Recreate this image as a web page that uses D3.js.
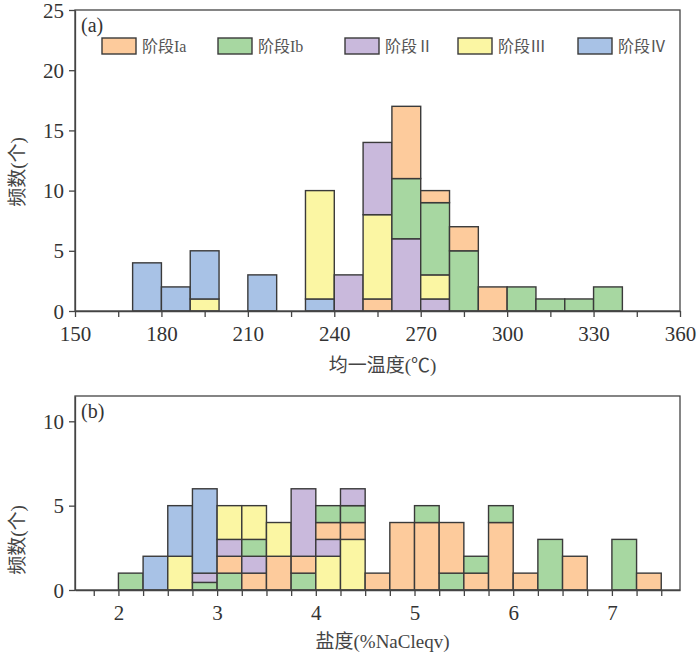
<!DOCTYPE html>
<html><head><meta charset="utf-8">
<script src="https://cdn.jsdelivr.net/npm/d3@7/dist/d3.min.js"></script>
<style>
body{margin:0;background:#fff;}
text{font-family:"Liberation Serif","Noto Sans CJK SC",serif;}
</style></head>
<body><svg id="c" width="700" height="662"></svg>
<script>
// ---- data ----
const seriesKeys = ["Ia","Ib","II","III","IV"];
const seriesNames = ["阶段Ia","阶段Ib","阶段Ⅱ","阶段Ⅲ","阶段Ⅳ"];
const seriesColors = ["#FDCB9C","#A7D7A1","#C9B9DC","#FBF6A3","#A8C2E6"];

// panel (a): homogenization temperature, bin width 10
const tempBins = [170,180,190,200,210,220,230,240,250,260,270,280,290,300,310,320,330];
const tempIa  = [0,0,0,0,0,0,0,0,1,6,1,2,2,0,0,0,0];
const tempIb  = [0,0,0,0,0,0,0,0,0,5,6,5,0,2,1,1,2];
const tempII  = [0,0,0,0,0,0,0,3,6,6,1,0,0,0,0,0,0];
const tempIII = [0,0,1,0,0,0,9,0,7,0,2,0,0,0,0,0,0];
const tempIV  = [4,2,4,0,3,0,1,0,0,0,0,0,0,0,0,0,0];
const tempOrder = ["IV","IV","III IV","","IV","","IV III","II","Ia III II","II Ib Ia","II III Ib Ia","Ib Ia","Ia","Ib","Ib","Ib","Ib"];
const tempXTicks = [150,165,180,195,210,225,240,255,270,285,300,315,330,345,360];
const tempYTicks = [0,5,10,15,20,25];

// panel (b): salinity, bin width 0.25
const salBins = [2.0,2.25,2.5,2.75,3.0,3.25,3.5,3.75,4.0,4.25,4.5,4.75,5.0,5.25,5.5,5.75,6.0,6.25,6.5,6.75,7.0,7.25];
const salIa  = [0,0,0,0,1,1,2,1,1,1,1,4,4,3,1,4,1,0,2,0,0,1];
const salIb  = [1,0,0,0.45,1,1,0,1,1,1,0,0,1,1,1,1,0,3,0,0,3,0];
const salII  = [0,0,0,0.55,1,1,0,4,1,1,0,0,0,0,0,0,0,0,0,0,0,0];
const salIII = [0,0,2,0,2,2,2,0,2,3,0,0,0,0,0,0,0,0,0,0,0,0];
const salIV  = [0,2,3,5,0,0,0,0,0,0,0,0,0,0,0,0,0,0,0,0,0,0];
const salOrder = ["Ib","IV","III IV","Ib II IV","Ib Ia II III","Ia II Ib III","Ia III","Ib Ia II","III II Ia Ib","III Ia Ib II","Ia","Ia","Ia Ib","Ib Ia","Ia Ib","Ia Ib","Ia","Ib","Ia","","Ib","Ia"];
const salXTicks = [1.75,2,2.25,2.5,2.75,3,3.25,3.5,3.75,4,4.25,4.5,4.75,5,5.25,5.5,5.75,6,6.25,6.5,6.75,7,7.25,7.5];
const salYTicks = [0,5,10];

const svg = d3.select("#c");
const axisColor = "#444", textColor = "#333", barStroke = "#3a3a3a";

function panel(cfg){
  const {x0,x1,y0,y1,xDomain,yDomain,bins,width,series,order,xTicks,xLabelTest,xFmt,yTicks,tag,xTitle,xTitleY,yTitleY} = cfg;
  const x = d3.scaleLinear().domain(xDomain).range([x0,x1]);
  const y = d3.scaleLinear().domain(yDomain).range([y1,y0]);
  const g = svg.append("g");
  // bars
  const segs = [];
  bins.forEach((b,i)=>{
    let acc = 0;
    const keys = order[i].split(" ").filter(k=>k);
    keys.forEach(k=>{
      const si = seriesKeys.indexOf(k);
      const v = series[si][i];
      if(v>0){ segs.push({b, lo:acc, hi:acc+v, si}); acc+=v; }
    });
  });
  g.selectAll("rect.bar").data(segs).enter().append("rect")
    .attr("class","bar")
    .attr("x",d=>x(d.b)).attr("width",d=>x(d.b+width)-x(d.b))
    .attr("y",d=>y(d.hi)).attr("height",d=>y(d.lo)-y(d.hi))
    .attr("fill",d=>seriesColors[d.si]).attr("stroke",barStroke).attr("stroke-width",1.4);
  // frame
  g.append("rect").attr("x",x0).attr("y",y0).attr("width",x1-x0).attr("height",y1-y0)
    .attr("fill","none").attr("stroke",axisColor).attr("stroke-width",1.3);
  // x axis
  const xa = g.append("g").attr("transform",`translate(0,${y1})`)
    .call(d3.axisBottom(x).tickValues(xTicks).tickSize(6).tickSizeOuter(0)
      .tickFormat(d=>xLabelTest(d)?xFmt(d):""));
  xa.select(".domain").attr("stroke",axisColor).attr("stroke-width",1.3);
  xa.selectAll(".tick line").attr("stroke",axisColor).attr("stroke-width",1.3);
  xa.selectAll(".tick text").attr("y",30).attr("dy",0).attr("fill",textColor)
    .style("font-size","21px");
  // y axis
  const ya = g.append("g").attr("transform",`translate(${x0},0)`)
    .call(d3.axisLeft(y).tickValues(yTicks).tickSize(6).tickSizeOuter(0));
  ya.select(".domain").attr("stroke",axisColor).attr("stroke-width",1.3);
  ya.selectAll(".tick line").attr("stroke",axisColor).attr("stroke-width",1.3);
  ya.selectAll(".tick text").attr("x",-11).attr("dy","0.34em").attr("fill",textColor)
    .style("font-size","21px");
  // tag
  g.append("text").attr("x",x0+6).attr("y",y0+22).text(tag)
    .attr("fill",textColor).style("font-size","20px");
  // titles
  g.append("text").attr("x",(x0+x1)/2+5).attr("y",xTitleY).attr("text-anchor","middle")
    .attr("fill","#444").style("font-size","19px").text(xTitle);
  g.append("text").attr("transform",`translate(24,${yTitleY}) rotate(-90)`)
    .attr("text-anchor","middle").attr("fill","#444").style("font-size","19px").text("频数(个)");
  return {x,y};
}

panel({x0:75,x1:680,y0:10,y1:311,xDomain:[150,360],yDomain:[0,25],
  bins:tempBins,width:10,series:[tempIa,tempIb,tempII,tempIII,tempIV],order:tempOrder,
  xTicks:tempXTicks,xLabelTest:d=>d%30===0,xFmt:d=>d,yTicks:tempYTicks,tag:"(a)",
  xTitle:"均一温度(℃)",xTitleY:372,yTitleY:172});

panel({x0:75,x1:680,y0:396,y1:590,xDomain:[1.56,7.69],yDomain:[0,11.5],
  bins:salBins,width:0.25,series:[salIa,salIb,salII,salIII,salIV],order:salOrder,
  xTicks:salXTicks,xLabelTest:d=>Number.isInteger(d)&&d>=2&&d<=7,xFmt:d=>d,yTicks:salYTicks,tag:"(b)",
  xTitle:"盐度(%NaCleqv)",xTitleY:648,yTitleY:540});

// legend
const legX = [102,218,345,458,578];
const leg = svg.append("g");
seriesNames.forEach((n,i)=>{
  leg.append("rect").attr("x",legX[i]).attr("y",38).attr("width",34).attr("height",16)
    .attr("fill",seriesColors[i]).attr("stroke",barStroke).attr("stroke-width",1.4);
  leg.append("text").attr("x",legX[i]+40).attr("y",52).text(n)
    .attr("fill","#555").style("font-size","16px");
});
</script></body></html>
